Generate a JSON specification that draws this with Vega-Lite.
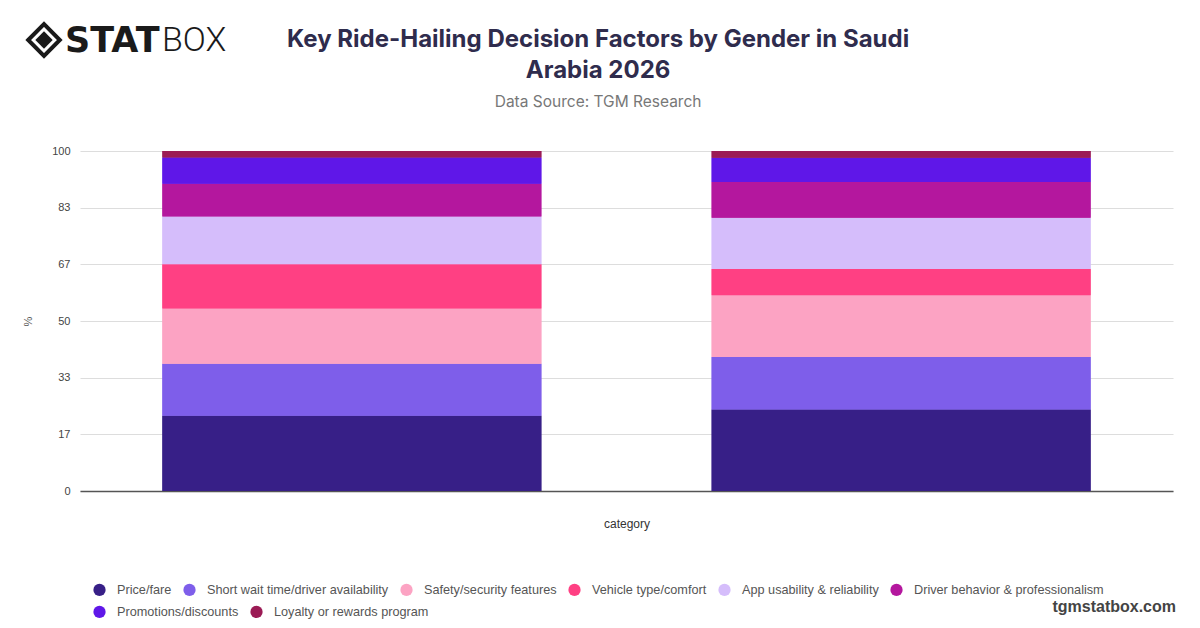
{
  "$schema": "https://vega.github.io/schema/vega-lite/v6.json",
  "width": 1093,
  "height": 340,
  "autosize": {"type": "none"},
  "padding": {"left": 80, "top": 151, "right": 27, "bottom": 137},
  "background": "#ffffff",
  "title": {
    "text": ["Key Ride-Hailing Decision Factors by Gender in Saudi", "Arabia 2026"],
    "subtitle": "Data Source: TGM Research",
    "anchor": "middle",
    "frame": "bounds",
    "font": "Inter",
    "fontSize": 24,
    "fontWeight": "bold",
    "color": "#2f2c4d",
    "lineHeight": 31,
    "subtitleFont": "Inter",
    "subtitleFontSize": 15.5,
    "subtitleColor": "#777777",
    "subtitlePadding": 12,
    "offset": 34,
    "dy": 128
  },
  "data": {
    "values": [
      {"category": "Male", "factor": "Price/fare", "share": 22.1},
      {"category": "Male", "factor": "Short wait time/driver availability", "share": 15.3},
      {"category": "Male", "factor": "Safety/security features", "share": 16.3},
      {"category": "Male", "factor": "Vehicle type/comfort", "share": 13.0},
      {"category": "Male", "factor": "App usability & reliability", "share": 14.0},
      {"category": "Male", "factor": "Driver behavior & professionalism", "share": 9.7},
      {"category": "Male", "factor": "Promotions/discounts", "share": 7.7},
      {"category": "Male", "factor": "Loyalty or rewards program", "share": 1.9},
      {"category": "Female", "factor": "Price/fare", "share": 24.0},
      {"category": "Female", "factor": "Short wait time/driver availability", "share": 15.4},
      {"category": "Female", "factor": "Safety/security features", "share": 18.2},
      {"category": "Female", "factor": "Vehicle type/comfort", "share": 7.7},
      {"category": "Female", "factor": "App usability & reliability", "share": 15.1},
      {"category": "Female", "factor": "Driver behavior & professionalism", "share": 10.5},
      {"category": "Female", "factor": "Promotions/discounts", "share": 7.1},
      {"category": "Female", "factor": "Loyalty or rewards program", "share": 2.0}
    ]
  },
  "resolve": {"scale": {"color": "independent"}, "legend": {"color": "independent"}},
  "layer": [
    {
      "transform": [
        {"calculate": "indexof(['Price/fare','Short wait time/driver availability','Safety/security features','Vehicle type/comfort','App usability & reliability','Driver behavior & professionalism','Promotions/discounts','Loyalty or rewards program'], datum.factor)", "as": "rank"}
      ],
      "mark": {"type": "bar"},
      "encoding": {
        "x": {
          "field": "category",
          "type": "nominal",
          "sort": ["Male", "Female"],
          "title": "category",
          "scale": {"paddingInner": 0.31, "paddingOuter": 0.15},
          "axis": {
            "labels": false,
            "ticks": false,
            "domainColor": "#555555",
            "domainWidth": 1.5,
            "titleFont": "Liberation Sans",
            "titleFontSize": 12,
            "titleFontWeight": "normal",
            "titleColor": "#333333",
            "titlePadding": 27
          }
        },
        "y": {
          "field": "share",
          "type": "quantitative",
          "stack": "zero",
          "title": "%",
          "scale": {"domain": [0, 100], "nice": false},
          "axis": {
            "values": [0, 16.67, 33.33, 50, 66.67, 83.33, 100],
            "format": ".0f",
            "domain": false,
            "ticks": false,
            "gridColor": "#dddddd",
            "labelFont": "Liberation Sans",
            "labelFontSize": 11,
            "labelColor": "#444444",
            "labelPadding": 10,
            "titleFont": "Liberation Sans",
            "titleFontSize": 11,
            "titleFontWeight": "normal",
            "titleColor": "#555555",
            "titlePadding": 18
          }
        },
        "order": {"field": "rank", "type": "quantitative"},
        "color": {
          "field": "factor",
          "type": "nominal",
          "scale": {
            "domain": [
              "Price/fare",
              "Short wait time/driver availability",
              "Safety/security features",
              "Vehicle type/comfort",
              "App usability & reliability",
              "Driver behavior & professionalism",
              "Promotions/discounts",
              "Loyalty or rewards program"
            ],
            "range": ["#371f87", "#7e5eea", "#fca3c3", "#ff4083", "#d5bdfb", "#b4179e", "#5f17e8", "#9b1b55"]
          },
          "legend": {
            "orient": "none",
            "legendX": 13,
            "legendY": 432,
            "direction": "horizontal",
            "title": null,
            "padding": 0,
            "values": [
              "Price/fare",
              "Short wait time/driver availability",
              "Safety/security features",
              "Vehicle type/comfort",
              "App usability & reliability",
              "Driver behavior & professionalism"
            ],
            "symbolType": "circle",
            "symbolSize": 150,
            "symbolStrokeWidth": 0,
            "labelFont": "Liberation Sans",
            "labelFontSize": 12.7,
            "labelColor": "#555555",
            "labelLimit": 400,
            "labelOffset": 11,
            "columnPadding": 11
          }
        }
      }
    },
    {
      "transform": [
        {"calculate": "indexof(['Price/fare','Short wait time/driver availability','Safety/security features','Vehicle type/comfort','App usability & reliability','Driver behavior & professionalism','Promotions/discounts','Loyalty or rewards program'], datum.factor)", "as": "rank"}
      ],
      "mark": {"type": "bar"},
      "encoding": {
        "x": {"field": "category", "type": "nominal", "sort": ["Male", "Female"]},
        "y": {"field": "share", "type": "quantitative", "stack": "zero"},
        "order": {"field": "rank", "type": "quantitative"},
        "color": {
          "field": "factor",
          "type": "nominal",
          "scale": {
            "domain": [
              "Price/fare",
              "Short wait time/driver availability",
              "Safety/security features",
              "Vehicle type/comfort",
              "App usability & reliability",
              "Driver behavior & professionalism",
              "Promotions/discounts",
              "Loyalty or rewards program"
            ],
            "range": ["#371f87", "#7e5eea", "#fca3c3", "#ff4083", "#d5bdfb", "#b4179e", "#5f17e8", "#9b1b55"]
          },
          "legend": {
            "orient": "none",
            "legendX": 13,
            "legendY": 454,
            "direction": "horizontal",
            "title": null,
            "padding": 0,
            "values": ["Promotions/discounts", "Loyalty or rewards program"],
            "symbolType": "circle",
            "symbolSize": 150,
            "symbolStrokeWidth": 0,
            "labelFont": "Liberation Sans",
            "labelFontSize": 12.7,
            "labelColor": "#555555",
            "labelLimit": 400,
            "labelOffset": 11,
            "columnPadding": 11
          }
        }
      }
    },
    {
      "data": {"values": [{}]},
      "mark": {"type": "point", "shape": "diamond", "filled": false, "stroke": "#1a1a1a", "strokeWidth": 4, "size": 1000, "opacity": 1},
      "encoding": {"x": {"value": -36}, "y": {"value": -111}}
    },
    {
      "data": {"values": [{}]},
      "mark": {"type": "point", "shape": "diamond", "filled": true, "fill": "#1a1a1a", "size": 300, "opacity": 1},
      "encoding": {"x": {"value": -36}, "y": {"value": -111}}
    },
    {
      "data": {"values": [{}]},
      "mark": {"type": "text", "text": "STAT", "font": "DejaVu Sans", "fontSize": 35, "fontWeight": "bold", "color": "#1a1a1a", "align": "left", "baseline": "middle"},
      "encoding": {"x": {"value": -15}, "y": {"value": -110}}
    },
    {
      "data": {"values": [{}]},
      "mark": {"type": "text", "text": "BOX", "font": "Roboto", "fontSize": 34, "fontWeight": 300, "color": "#1a1a1a", "align": "left", "baseline": "middle"},
      "encoding": {"x": {"value": 82}, "y": {"value": -110}}
    },
    {
      "data": {"values": [{}]},
      "mark": {"type": "text", "text": "tgmstatbox.com", "font": "Liberation Sans", "fontSize": 16, "fontWeight": "bold", "color": "#444444", "align": "right", "baseline": "middle"},
      "encoding": {"x": {"value": 1096}, "y": {"value": 456}}
    }
  ],
  "config": {
    "view": {"stroke": null}
  }
}
